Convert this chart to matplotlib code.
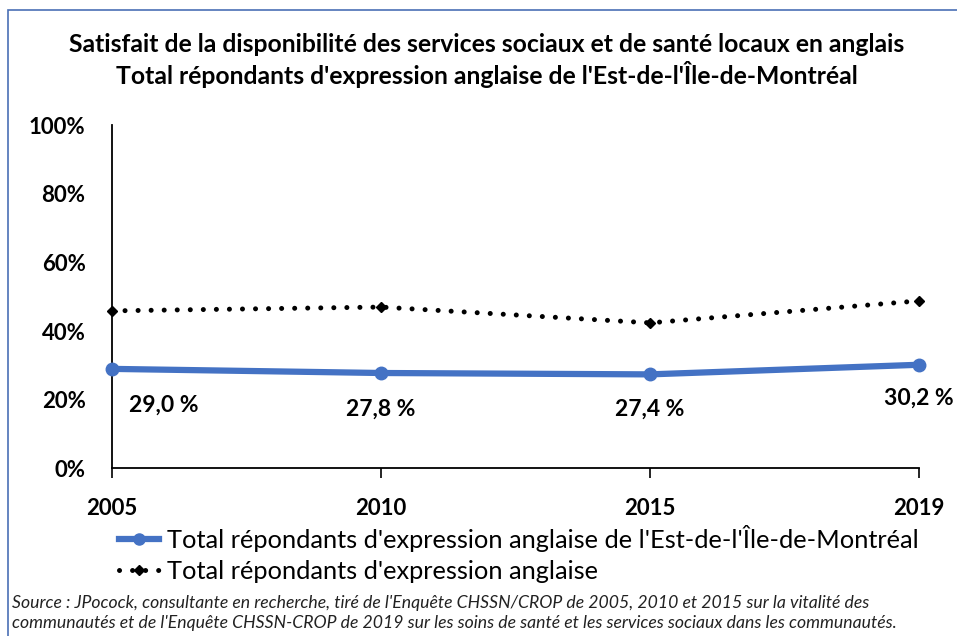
import numpy as np
import matplotlib.pyplot as plt
from matplotlib.lines import Line2D
from matplotlib.patches import Rectangle

plt.rcParams['font.family'] = ['Lato', 'DejaVu Sans']

# donnees
annees = ['2005', '2010', '2015', '2019']
est_montreal = [29.0, 27.8, 27.4, 30.2]
total_anglais = [45.9, 47.0, 42.4, 48.8]
etiquettes = ['29,0 %', '27,8 %', '27,4 %', '30,2 %']

titre = ("Satisfait de la disponibilité des services sociaux et de santé locaux en anglais\n"
         "Total répondants d'expression anglaise de l'Est-de-l'Île-de-Montréal")
nom_serie1 = "Total répondants d'expression anglaise de l'Est-de-l'Île-de-Montréal"
nom_serie2 = "Total répondants d'expression anglaise"
source = ("Source : JPocock, consultante en recherche, tiré de l'Enquête CHSSN/CROP de 2005, 2010 et 2015 sur la vitalité des\n"
          "communautés et de l'Enquête CHSSN-CROP de 2019 sur les soins de santé et les services sociaux dans les communautés.")

bleu = '#4472C4'
pointille = (0, (0.01, 2.6))

fig = plt.figure(figsize=(9.57, 6.36), dpi=100)
ax = fig.add_axes([0.117, 0.2634, 0.8433, 0.540])

x = np.arange(len(annees))
ax.plot(x, total_anglais, color='black', linestyle=pointille, linewidth=3.6,
        dash_capstyle='round', marker='D', markersize=5.5, clip_on=False, zorder=3)
ax.plot(x, est_montreal, color=bleu, linewidth=4.5, marker='o', markersize=9,
        solid_capstyle='round', clip_on=False, zorder=4)

decalages = [(37, -26), (0, -26), (0, -25), (0, -24)]
for xi, yi, lab, d in zip(x, est_montreal, etiquettes, decalages):
    ax.annotate(lab, (xi, yi), xytext=d, textcoords='offset points', ha='center',
                va='center', fontsize=16.5, fontweight='bold', annotation_clip=False)

ax.set_xlim(0, 3)
ax.set_ylim(0, 100)
ax.set_xticks(x)
ax.set_xticklabels(annees, fontsize=16, fontweight='bold')
ax.set_yticks([0, 20, 40, 60, 80, 100])
ax.set_yticklabels(['0%', '20%', '40%', '60%', '80%', '100%'], fontsize=16, fontweight='bold')
ax.tick_params(axis='y', length=0, pad=19)
ax.tick_params(axis='x', length=7, width=1.2, pad=14, direction='out')
for s in ['top', 'right']:
    ax.spines[s].set_visible(False)
ax.spines['left'].set_linewidth(1.3)
ax.spines['bottom'].set_linewidth(1.3)

fig.text(0.509, 0.905, titre, ha='center', va='center', fontsize=17.8,
         fontweight='bold', linespacing=1.22)

# legende
poignees = [
    Line2D([], [], color=bleu, linewidth=4.5, marker='o', markersize=8),
    Line2D([], [], color='black', linestyle=pointille, linewidth=3.6,
           dash_capstyle='round', marker='D', markersize=5.5),
]
fig.legend(poignees, [nom_serie1, nom_serie2], loc='upper left',
           bbox_to_anchor=(0.124, 0.174), frameon=False, fontsize=18.3,
           handlelength=1.6, handletextpad=0.3, labelspacing=0.3,
           borderpad=0, borderaxespad=0)

fig.text(0.013, 0.036, source, ha='left', va='center', fontsize=12.7,
         style='italic', color='#222222', linespacing=1.3)

# cadre
fig.patches.append(Rectangle((8 / 957, -0.05), 1.2, 1.0 - 10 / 636 + 0.05,
                             transform=fig.transFigure, fill=False,
                             edgecolor='#4a6fb5', linewidth=1.2))

fig.savefig('out.png', dpi=100)
